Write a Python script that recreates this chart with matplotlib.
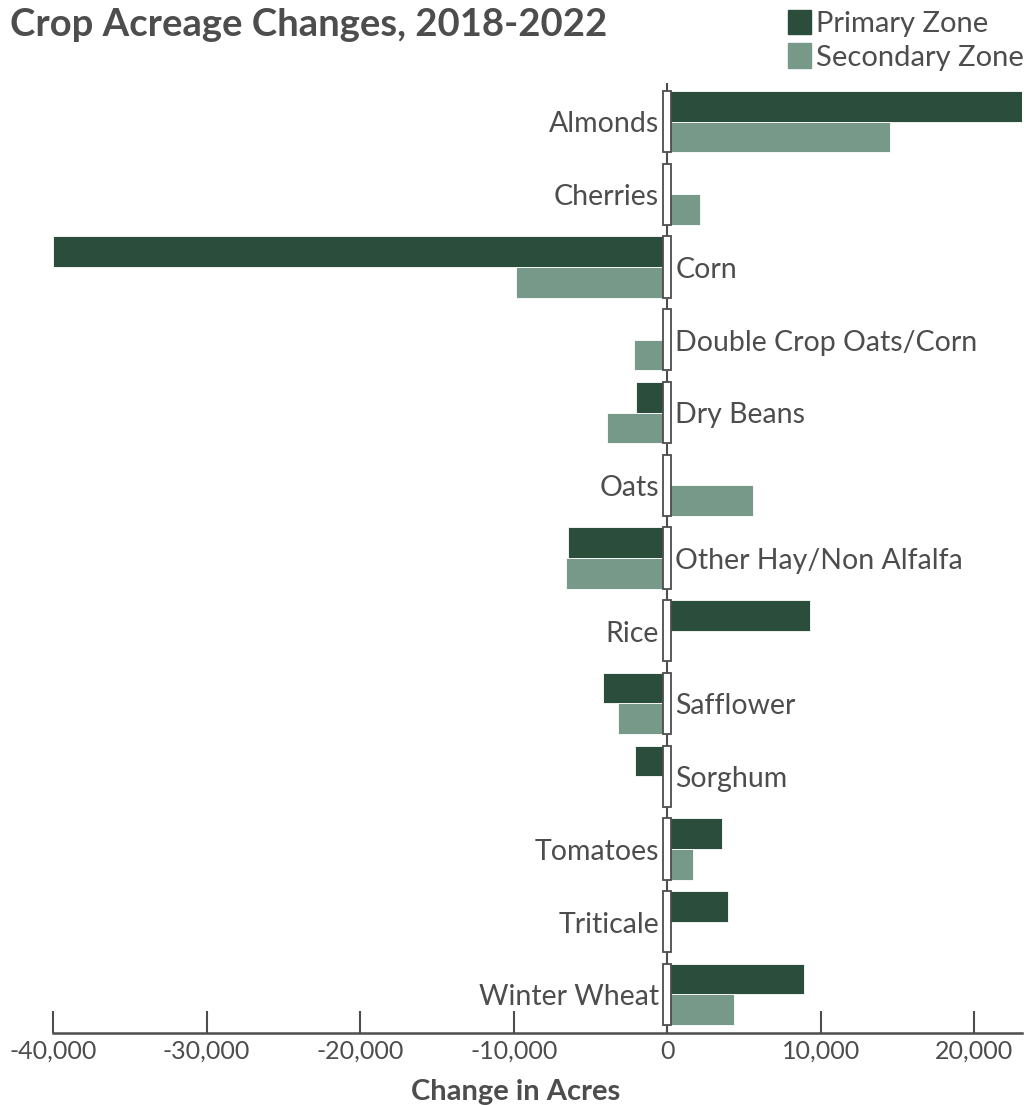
import numpy as np
import matplotlib
matplotlib.use("Agg")
import matplotlib.pyplot as plt
from matplotlib.patches import Patch, Rectangle

crops = ["Almonds", "Cherries", "Corn", "Double Crop Oats/Corn", "Dry Beans",
         "Oats", "Other Hay/Non Alfalfa", "Rice", "Safflower", "Sorghum",
         "Tomatoes", "Triticale", "Winter Wheat"]
primary = [24000, 0, -40000, 0, -2020, 0, -6450, 9320, -4170, -2085, 3580, 3970, 8920]
secondary = [14530, 2150, -9840, -2150, -3910, 5600, -6580, 0, -3190, 0, 1690, 0, 4370]
xticks = [-40000, -30000, -20000, -10000, 0, 10000, 20000]

dark = "#2b4d3c"
light = "#77998a"
grey = "#4d4d4d"

plt.rcParams["font.family"] = ["Lato", "DejaVu Sans"]

fig = plt.figure(figsize=(10.26, 11.05), dpi=100)
ax = fig.add_axes([53 / 1026, 72 / 1105, 969 / 1026, 950 / 1105])

y = np.arange(len(crops))
h = 0.42
ax.barh(y - h / 2, primary, height=h, color=dark, edgecolor="white", linewidth=0.6, zorder=2)
ax.barh(y + h / 2, secondary, height=h, color=light, edgecolor="white", linewidth=0.6, zorder=2)

# zero line with a small white box over it for each crop
ax.axvline(0, color=grey, lw=1.5, zorder=1)
box_w = 520
for yi, p, s in zip(y, primary, secondary):
    ax.add_patch(Rectangle((-box_w / 2, yi - h), box_w, 2 * h, facecolor="white",
                           edgecolor=grey, lw=1.3, zorder=3))
    # label goes on the side away from the bars
    if p + s < 0:
        ax.text(box_w / 2 + 270, yi + 0.04, crops[yi], ha="left", va="center",
                fontsize=20.5, color=grey, zorder=4)
    else:
        ax.text(-box_w / 2 - 270, yi + 0.04, crops[yi], ha="right", va="center",
                fontsize=20.5, color=grey, zorder=4)

ax.set_xlim(-40000, 23100)
ax.set_ylim(12.53, -0.53)
ax.set_yticks([])
ax.set_xticks(xticks)
ax.set_xticklabels([f"{v:,}" for v in xticks])
ax.tick_params(axis="x", direction="in", length=16, width=1.5, color=grey,
               labelsize=18, labelcolor=grey, pad=5)
for side in ["top", "right", "left"]:
    ax.spines[side].set_visible(False)
ax.spines["bottom"].set_color(grey)
ax.spines["bottom"].set_linewidth(1.8)

fig.text(10 / 1026, 1 - 25 / 1105, "Crop Acreage Changes, 2018-2022", fontsize=27.5,
         fontweight="bold", color=grey, va="center", ha="left")
fig.text(516 / 1026, 1 - 1092 / 1105, "Change in Acres", fontsize=21,
         fontweight="bold", color=grey, va="center", ha="center")

handles = [Patch(color=dark, label="Primary Zone"), Patch(color=light, label="Secondary Zone")]
fig.legend(handles=handles, loc="upper left", bbox_to_anchor=(785 / 1026, 1 - 7 / 1105),
           frameon=False, fontsize=21, handlelength=0.78, handleheight=0.9,
           handletextpad=0.2, labelspacing=0.22, labelcolor=grey, borderaxespad=0,
           borderpad=0.1)

fig.savefig("out.png", dpi=100)
